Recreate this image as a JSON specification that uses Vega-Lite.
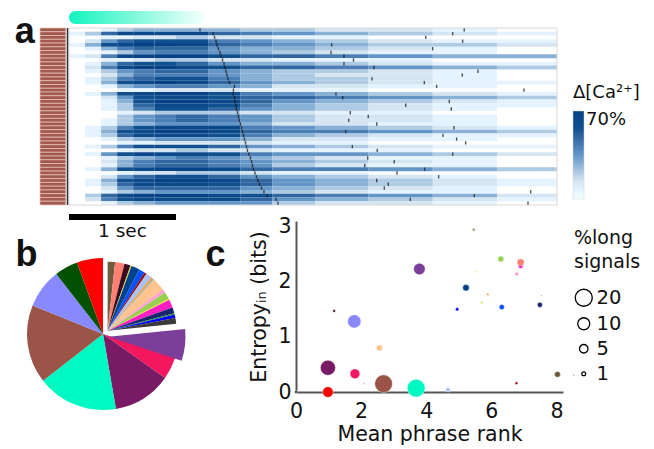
{
"$schema":"https://vega.github.io/schema/vega-lite/v6.json",
"background":"white",
"padding":{"left":14,"top":10,"right":0,"bottom":0},
"config":{"view":{"stroke":null},"font":"DejaVu Sans"},
"bounds":"flush",
"spacing":16,
"resolve":{"scale":{"color":"independent","size":"independent"},"legend":{"color":"independent","size":"independent"}},
"datasets":{
"bins":[{"b":0,"t0":0,"t1":0.15},{"b":1,"t0":0.15,"t1":0.3},{"b":2,"t0":0.3,"t1":0.45},{"b":3,"t0":0.45,"t1":0.6},{"b":4,"t0":0.6,"t1":0.8},{"b":5,"t0":0.8,"t1":1.0},{"b":6,"t0":1.0,"t1":1.3},{"b":7,"t0":1.3,"t1":1.6},{"b":8,"t0":1.6,"t1":1.9},{"b":9,"t0":1.9,"t1":2.3},{"b":10,"t0":2.3,"t1":2.8},{"b":11,"t0":2.8,"t1":3.4},{"b":12,"t0":3.4,"t1":4.0},{"b":13,"t0":4.0,"t1":4.561}],
"annot":[{"name":"stim","t0":0,"t1":1.27},{"name":"bar","t0":0,"t1":1,"lab":"1 sec"},{"name":"frame","t0":0,"t1":4.561},{"name":"divider","t0":-0.014}],
"cells":[
{"r":1,"b":2,"v":1},{"r":1,"b":3,"v":3},{"r":1,"b":4,"v":4},{"r":1,"b":5,"v":4},{"r":1,"b":6,"v":4},{"r":1,"b":7,"v":4},{"r":1,"b":8,"v":3},{"r":1,"b":9,"v":3},{"r":1,"b":10,"v":2},{"r":1,"b":11,"v":2},{"r":1,"b":12,"v":1},
{"r":2,"b":0,"v":1},{"r":2,"b":1,"v":3},{"r":2,"b":2,"v":7},{"r":2,"b":3,"v":9},{"r":2,"b":4,"v":9},{"r":2,"b":5,"v":9},{"r":2,"b":6,"v":9},{"r":2,"b":7,"v":7},{"r":2,"b":8,"v":6},{"r":2,"b":9,"v":5},{"r":2,"b":10,"v":4},{"r":2,"b":11,"v":3},{"r":2,"b":12,"v":2},{"r":2,"b":13,"v":1},
{"r":3,"b":2,"v":1},{"r":3,"b":3,"v":1},{"r":3,"b":4,"v":2},{"r":3,"b":5,"v":2},{"r":3,"b":6,"v":3},{"r":3,"b":7,"v":2},{"r":3,"b":8,"v":2},{"r":3,"b":9,"v":1},{"r":3,"b":10,"v":1},
{"r":4,"b":1,"v":2},{"r":4,"b":2,"v":5},{"r":4,"b":3,"v":7},{"r":4,"b":4,"v":8},{"r":4,"b":5,"v":8},{"r":4,"b":6,"v":8},{"r":4,"b":7,"v":6},{"r":4,"b":8,"v":5},{"r":4,"b":9,"v":4},{"r":4,"b":10,"v":3},{"r":4,"b":11,"v":2},{"r":4,"b":12,"v":1},{"r":4,"b":13,"v":1},
{"r":5,"b":0,"v":1},{"r":5,"b":1,"v":4},{"r":5,"b":2,"v":8},{"r":5,"b":3,"v":9},{"r":5,"b":4,"v":10},{"r":5,"b":5,"v":10},{"r":5,"b":6,"v":9},{"r":5,"b":7,"v":7},{"r":5,"b":8,"v":6},{"r":5,"b":9,"v":5},{"r":5,"b":10,"v":4},{"r":5,"b":11,"v":3},{"r":5,"b":12,"v":3},{"r":5,"b":13,"v":2},
{"r":6,"b":1,"v":1},{"r":6,"b":2,"v":4},{"r":6,"b":3,"v":6},{"r":6,"b":4,"v":7},{"r":6,"b":5,"v":7},{"r":6,"b":6,"v":7},{"r":6,"b":7,"v":5},{"r":6,"b":8,"v":4},{"r":6,"b":9,"v":4},{"r":6,"b":10,"v":3},{"r":6,"b":11,"v":2},{"r":6,"b":12,"v":1},
{"r":7,"b":2,"v":1},{"r":7,"b":3,"v":3},{"r":7,"b":4,"v":5},{"r":7,"b":5,"v":6},{"r":7,"b":6,"v":6},{"r":7,"b":7,"v":5},{"r":7,"b":8,"v":4},{"r":7,"b":9,"v":3},{"r":7,"b":10,"v":2},{"r":7,"b":11,"v":1},{"r":7,"b":12,"v":1},
{"r":8,"b":0,"v":1},{"r":8,"b":1,"v":2},{"r":8,"b":2,"v":6},{"r":8,"b":3,"v":9},{"r":8,"b":4,"v":10},{"r":8,"b":5,"v":10},{"r":8,"b":6,"v":10},{"r":8,"b":7,"v":8},{"r":8,"b":8,"v":7},{"r":8,"b":9,"v":7},{"r":8,"b":10,"v":6},{"r":8,"b":11,"v":5},{"r":8,"b":12,"v":4},{"r":8,"b":13,"v":4},
{"r":9,"b":2,"v":1},{"r":9,"b":3,"v":1},{"r":9,"b":4,"v":2},{"r":9,"b":5,"v":3},{"r":9,"b":6,"v":3},{"r":9,"b":7,"v":2},{"r":9,"b":8,"v":2},{"r":9,"b":9,"v":1},{"r":9,"b":10,"v":1},{"r":9,"b":11,"v":1},
{"r":10,"b":1,"v":1},{"r":10,"b":2,"v":4},{"r":10,"b":3,"v":7},{"r":10,"b":4,"v":8},{"r":10,"b":5,"v":8},{"r":10,"b":6,"v":7},{"r":10,"b":7,"v":5},{"r":10,"b":8,"v":4},{"r":10,"b":9,"v":4},{"r":10,"b":10,"v":3},{"r":10,"b":11,"v":2},{"r":10,"b":12,"v":1},{"r":10,"b":13,"v":1},
{"r":11,"b":1,"v":2},{"r":11,"b":2,"v":6},{"r":11,"b":3,"v":9},{"r":11,"b":4,"v":10},{"r":11,"b":5,"v":10},{"r":11,"b":6,"v":9},{"r":11,"b":7,"v":8},{"r":11,"b":8,"v":7},{"r":11,"b":9,"v":7},{"r":11,"b":10,"v":6},{"r":11,"b":11,"v":5},{"r":11,"b":12,"v":4},{"r":11,"b":13,"v":3},
{"r":12,"b":1,"v":1},{"r":12,"b":2,"v":3},{"r":12,"b":3,"v":5},{"r":12,"b":4,"v":6},{"r":12,"b":5,"v":7},{"r":12,"b":6,"v":7},{"r":12,"b":7,"v":5},{"r":12,"b":8,"v":4},{"r":12,"b":9,"v":3},{"r":12,"b":10,"v":3},{"r":12,"b":11,"v":2},{"r":12,"b":12,"v":1},
{"r":13,"b":2,"v":2},{"r":13,"b":3,"v":4},{"r":13,"b":4,"v":6},{"r":13,"b":5,"v":6},{"r":13,"b":6,"v":6},{"r":13,"b":7,"v":5},{"r":13,"b":8,"v":4},{"r":13,"b":9,"v":3},{"r":13,"b":10,"v":2},{"r":13,"b":11,"v":2},{"r":13,"b":12,"v":1},
{"r":14,"b":1,"v":1},{"r":14,"b":2,"v":3},{"r":14,"b":3,"v":6},{"r":14,"b":4,"v":7},{"r":14,"b":5,"v":8},{"r":14,"b":6,"v":8},{"r":14,"b":7,"v":6},{"r":14,"b":8,"v":4},{"r":14,"b":9,"v":3},{"r":14,"b":10,"v":3},{"r":14,"b":11,"v":2},{"r":14,"b":12,"v":1},
{"r":15,"b":1,"v":1},{"r":15,"b":2,"v":4},{"r":15,"b":3,"v":8},{"r":15,"b":4,"v":9},{"r":15,"b":5,"v":10},{"r":15,"b":6,"v":9},{"r":15,"b":7,"v":7},{"r":15,"b":8,"v":5},{"r":15,"b":9,"v":4},{"r":15,"b":10,"v":3},{"r":15,"b":11,"v":2},{"r":15,"b":12,"v":1},{"r":15,"b":13,"v":1},
{"r":16,"b":2,"v":1},{"r":16,"b":3,"v":4},{"r":16,"b":4,"v":5},{"r":16,"b":5,"v":6},{"r":16,"b":6,"v":6},{"r":16,"b":7,"v":5},{"r":16,"b":8,"v":4},{"r":16,"b":9,"v":2},{"r":16,"b":10,"v":2},{"r":16,"b":11,"v":1},{"r":16,"b":12,"v":1},
{"r":17,"b":3,"v":1},{"r":17,"b":4,"v":1},{"r":17,"b":5,"v":2},{"r":17,"b":6,"v":2},{"r":17,"b":7,"v":2},{"r":17,"b":8,"v":1},{"r":17,"b":9,"v":1},{"r":17,"b":10,"v":1},
{"r":18,"b":1,"v":1},{"r":18,"b":2,"v":4},{"r":18,"b":3,"v":8},{"r":18,"b":4,"v":9},{"r":18,"b":5,"v":10},{"r":18,"b":6,"v":10},{"r":18,"b":7,"v":8},{"r":18,"b":8,"v":6},{"r":18,"b":9,"v":5},{"r":18,"b":10,"v":4},{"r":18,"b":11,"v":3},{"r":18,"b":12,"v":2},{"r":18,"b":13,"v":1},
{"r":19,"b":2,"v":2},{"r":19,"b":3,"v":5},{"r":19,"b":4,"v":8},{"r":19,"b":5,"v":9},{"r":19,"b":6,"v":9},{"r":19,"b":7,"v":8},{"r":19,"b":8,"v":7},{"r":19,"b":9,"v":7},{"r":19,"b":10,"v":6},{"r":19,"b":11,"v":5},{"r":19,"b":12,"v":4},{"r":19,"b":13,"v":3},
{"r":20,"b":2,"v":1},{"r":20,"b":3,"v":4},{"r":20,"b":4,"v":8},{"r":20,"b":5,"v":10},{"r":20,"b":6,"v":10},{"r":20,"b":7,"v":9},{"r":20,"b":8,"v":7},{"r":20,"b":9,"v":5},{"r":20,"b":10,"v":4},{"r":20,"b":11,"v":3},{"r":20,"b":12,"v":2},{"r":20,"b":13,"v":1},
{"r":21,"b":2,"v":1},{"r":21,"b":3,"v":3},{"r":21,"b":4,"v":7},{"r":21,"b":5,"v":9},{"r":21,"b":6,"v":9},{"r":21,"b":7,"v":8},{"r":21,"b":8,"v":6},{"r":21,"b":9,"v":4},{"r":21,"b":10,"v":3},{"r":21,"b":11,"v":2},{"r":21,"b":12,"v":1},{"r":21,"b":13,"v":1},
{"r":22,"b":2,"v":1},{"r":22,"b":3,"v":3},{"r":22,"b":4,"v":6},{"r":22,"b":5,"v":8},{"r":22,"b":6,"v":8},{"r":22,"b":7,"v":7},{"r":22,"b":8,"v":5},{"r":22,"b":9,"v":4},{"r":22,"b":10,"v":3},{"r":22,"b":11,"v":2},{"r":22,"b":12,"v":1},
{"r":23,"b":3,"v":1},{"r":23,"b":4,"v":2},{"r":23,"b":5,"v":3},{"r":23,"b":6,"v":3},{"r":23,"b":7,"v":3},{"r":23,"b":8,"v":2},{"r":23,"b":9,"v":2},{"r":23,"b":10,"v":1},{"r":23,"b":11,"v":1},
{"r":24,"b":3,"v":3},{"r":24,"b":4,"v":5},{"r":24,"b":5,"v":6},{"r":24,"b":6,"v":7},{"r":24,"b":7,"v":6},{"r":24,"b":8,"v":5},{"r":24,"b":9,"v":3},{"r":24,"b":10,"v":2},{"r":24,"b":11,"v":2},{"r":24,"b":12,"v":1},
{"r":25,"b":2,"v":1},{"r":25,"b":3,"v":3},{"r":25,"b":4,"v":5},{"r":25,"b":5,"v":6},{"r":25,"b":6,"v":7},{"r":25,"b":7,"v":6},{"r":25,"b":8,"v":5},{"r":25,"b":9,"v":3},{"r":25,"b":10,"v":2},{"r":25,"b":11,"v":2},{"r":25,"b":12,"v":1},
{"r":26,"b":2,"v":1},{"r":26,"b":3,"v":3},{"r":26,"b":4,"v":4},{"r":26,"b":5,"v":5},{"r":26,"b":6,"v":5},{"r":26,"b":7,"v":5},{"r":26,"b":8,"v":4},{"r":26,"b":9,"v":2},{"r":26,"b":10,"v":2},{"r":26,"b":11,"v":1},{"r":26,"b":12,"v":1},
{"r":27,"b":1,"v":1},{"r":27,"b":2,"v":3},{"r":27,"b":3,"v":6},{"r":27,"b":4,"v":8},{"r":27,"b":5,"v":9},{"r":27,"b":6,"v":9},{"r":27,"b":7,"v":9},{"r":27,"b":8,"v":6},{"r":27,"b":9,"v":5},{"r":27,"b":10,"v":4},{"r":27,"b":11,"v":3},{"r":27,"b":12,"v":2},{"r":27,"b":13,"v":1},
{"r":28,"b":1,"v":1},{"r":28,"b":2,"v":4},{"r":28,"b":3,"v":8},{"r":28,"b":4,"v":9},{"r":28,"b":5,"v":10},{"r":28,"b":6,"v":10},{"r":28,"b":7,"v":9},{"r":28,"b":8,"v":7},{"r":28,"b":9,"v":6},{"r":28,"b":10,"v":6},{"r":28,"b":11,"v":5},{"r":28,"b":12,"v":4},{"r":28,"b":13,"v":3},
{"r":29,"b":1,"v":1},{"r":29,"b":2,"v":3},{"r":29,"b":3,"v":7},{"r":29,"b":4,"v":9},{"r":29,"b":5,"v":9},{"r":29,"b":6,"v":9},{"r":29,"b":7,"v":8},{"r":29,"b":8,"v":6},{"r":29,"b":9,"v":4},{"r":29,"b":10,"v":3},{"r":29,"b":11,"v":2},{"r":29,"b":12,"v":1},{"r":29,"b":13,"v":1},
{"r":30,"b":2,"v":1},{"r":30,"b":3,"v":3},{"r":30,"b":4,"v":4},{"r":30,"b":5,"v":5},{"r":30,"b":6,"v":5},{"r":30,"b":7,"v":5},{"r":30,"b":8,"v":4},{"r":30,"b":9,"v":2},{"r":30,"b":10,"v":2},{"r":30,"b":11,"v":1},{"r":30,"b":12,"v":1},
{"r":31,"b":3,"v":1},{"r":31,"b":4,"v":1},{"r":31,"b":5,"v":2},{"r":31,"b":6,"v":2},{"r":31,"b":7,"v":2},{"r":31,"b":8,"v":2},{"r":31,"b":9,"v":1},{"r":31,"b":10,"v":1},
{"r":32,"b":1,"v":1},{"r":32,"b":2,"v":3},{"r":32,"b":3,"v":6},{"r":32,"b":4,"v":8},{"r":32,"b":5,"v":8},{"r":32,"b":6,"v":8},{"r":32,"b":7,"v":7},{"r":32,"b":8,"v":5},{"r":32,"b":9,"v":4},{"r":32,"b":10,"v":3},{"r":32,"b":11,"v":2},{"r":32,"b":12,"v":1},{"r":32,"b":13,"v":1},
{"r":33,"b":3,"v":1},{"r":33,"b":4,"v":2},{"r":33,"b":5,"v":2},{"r":33,"b":6,"v":3},{"r":33,"b":7,"v":2},{"r":33,"b":8,"v":2},{"r":33,"b":9,"v":1},{"r":33,"b":10,"v":1},{"r":33,"b":11,"v":1},
{"r":34,"b":1,"v":1},{"r":34,"b":2,"v":5},{"r":34,"b":3,"v":8},{"r":34,"b":4,"v":9},{"r":34,"b":5,"v":9},{"r":34,"b":6,"v":9},{"r":34,"b":7,"v":8},{"r":34,"b":8,"v":6},{"r":34,"b":9,"v":5},{"r":34,"b":10,"v":5},{"r":34,"b":11,"v":4},{"r":34,"b":12,"v":3},{"r":34,"b":13,"v":2},
{"r":35,"b":2,"v":1},{"r":35,"b":3,"v":3},{"r":35,"b":4,"v":4},{"r":35,"b":5,"v":5},{"r":35,"b":6,"v":6},{"r":35,"b":7,"v":5},{"r":35,"b":8,"v":4},{"r":35,"b":9,"v":3},{"r":35,"b":10,"v":2},{"r":35,"b":11,"v":1},{"r":35,"b":12,"v":1},
{"r":36,"b":2,"v":2},{"r":36,"b":3,"v":4},{"r":36,"b":4,"v":6},{"r":36,"b":5,"v":7},{"r":36,"b":6,"v":7},{"r":36,"b":7,"v":6},{"r":36,"b":8,"v":5},{"r":36,"b":9,"v":4},{"r":36,"b":10,"v":3},{"r":36,"b":11,"v":2},{"r":36,"b":12,"v":1},
{"r":37,"b":2,"v":1},{"r":37,"b":3,"v":4},{"r":37,"b":4,"v":6},{"r":37,"b":5,"v":7},{"r":37,"b":6,"v":7},{"r":37,"b":7,"v":6},{"r":37,"b":8,"v":5},{"r":37,"b":9,"v":3},{"r":37,"b":10,"v":2},{"r":37,"b":11,"v":1},{"r":37,"b":12,"v":1},
{"r":38,"b":1,"v":1},{"r":38,"b":2,"v":4},{"r":38,"b":3,"v":8},{"r":38,"b":4,"v":9},{"r":38,"b":5,"v":10},{"r":38,"b":6,"v":10},{"r":38,"b":7,"v":9},{"r":38,"b":8,"v":7},{"r":38,"b":9,"v":6},{"r":38,"b":10,"v":6},{"r":38,"b":11,"v":5},{"r":38,"b":12,"v":4},{"r":38,"b":13,"v":3},
{"r":39,"b":3,"v":1},{"r":39,"b":4,"v":2},{"r":39,"b":5,"v":2},{"r":39,"b":6,"v":3},{"r":39,"b":7,"v":3},{"r":39,"b":8,"v":2},{"r":39,"b":9,"v":1},{"r":39,"b":10,"v":1},
{"r":40,"b":2,"v":2},{"r":40,"b":3,"v":5},{"r":40,"b":4,"v":7},{"r":40,"b":5,"v":8},{"r":40,"b":6,"v":8},{"r":40,"b":7,"v":7},{"r":40,"b":8,"v":5},{"r":40,"b":9,"v":4},{"r":40,"b":10,"v":3},{"r":40,"b":11,"v":2},{"r":40,"b":12,"v":1},
{"r":41,"b":1,"v":1},{"r":41,"b":2,"v":4},{"r":41,"b":3,"v":8},{"r":41,"b":4,"v":9},{"r":41,"b":5,"v":10},{"r":41,"b":6,"v":10},{"r":41,"b":7,"v":9},{"r":41,"b":8,"v":7},{"r":41,"b":9,"v":5},{"r":41,"b":10,"v":4},{"r":41,"b":11,"v":3},{"r":41,"b":12,"v":2},{"r":41,"b":13,"v":1},
{"r":42,"b":1,"v":1},{"r":42,"b":2,"v":3},{"r":42,"b":3,"v":7},{"r":42,"b":4,"v":9},{"r":42,"b":5,"v":9},{"r":42,"b":6,"v":9},{"r":42,"b":7,"v":8},{"r":42,"b":8,"v":7},{"r":42,"b":9,"v":5},{"r":42,"b":10,"v":4},{"r":42,"b":11,"v":3},{"r":42,"b":12,"v":2},{"r":42,"b":13,"v":1},
{"r":43,"b":2,"v":2},{"r":43,"b":3,"v":5},{"r":43,"b":4,"v":7},{"r":43,"b":5,"v":7},{"r":43,"b":6,"v":7},{"r":43,"b":7,"v":7},{"r":43,"b":8,"v":5},{"r":43,"b":9,"v":4},{"r":43,"b":10,"v":3},{"r":43,"b":11,"v":2},{"r":43,"b":12,"v":1},
{"r":44,"b":2,"v":1},{"r":44,"b":3,"v":3},{"r":44,"b":4,"v":4},{"r":44,"b":5,"v":5},{"r":44,"b":6,"v":5},{"r":44,"b":7,"v":5},{"r":44,"b":8,"v":4},{"r":44,"b":9,"v":3},{"r":44,"b":10,"v":2},{"r":44,"b":11,"v":1},{"r":44,"b":12,"v":1},
{"r":45,"b":1,"v":3},{"r":45,"b":2,"v":7},{"r":45,"b":3,"v":9},{"r":45,"b":4,"v":10},{"r":45,"b":5,"v":10},{"r":45,"b":6,"v":10},{"r":45,"b":7,"v":9},{"r":45,"b":8,"v":8},{"r":45,"b":9,"v":7},{"r":45,"b":10,"v":6},{"r":45,"b":11,"v":5},{"r":45,"b":12,"v":4},{"r":45,"b":13,"v":2},
{"r":46,"b":1,"v":2},{"r":46,"b":2,"v":6},{"r":46,"b":3,"v":8},{"r":46,"b":4,"v":9},{"r":46,"b":5,"v":9},{"r":46,"b":6,"v":9},{"r":46,"b":7,"v":9},{"r":46,"b":8,"v":7},{"r":46,"b":9,"v":5},{"r":46,"b":10,"v":4},{"r":46,"b":11,"v":3},{"r":46,"b":12,"v":2},{"r":46,"b":13,"v":1},
{"r":47,"b":2,"v":1},{"r":47,"b":3,"v":3},{"r":47,"b":4,"v":4},{"r":47,"b":5,"v":5},{"r":47,"b":6,"v":5},{"r":47,"b":7,"v":5},{"r":47,"b":8,"v":5},{"r":47,"b":9,"v":3},{"r":47,"b":10,"v":2},{"r":47,"b":11,"v":2},{"r":47,"b":12,"v":1}
],
"ticks":[
{"r":1,"t":1.224,"k":"m"},{"r":2,"t":1.346,"k":"m"},{"r":3,"t":1.36,"k":"m"},{"r":4,"t":1.374,"k":"m"},{"r":5,"t":1.383,"k":"m"},{"r":6,"t":1.397,"k":"m"},{"r":7,"t":1.411,"k":"m"},{"r":8,"t":1.421,"k":"m"},{"r":9,"t":1.435,"k":"m"},{"r":10,"t":1.449,"k":"m"},{"r":11,"t":1.458,"k":"m"},{"r":12,"t":1.467,"k":"m"},{"r":13,"t":1.477,"k":"m"},{"r":14,"t":1.486,"k":"m"},{"r":15,"t":1.5,"k":"m"},{"r":16,"t":1.547,"k":"m"},{"r":17,"t":1.537,"k":"m"},{"r":18,"t":1.533,"k":"m"},{"r":19,"t":1.547,"k":"m"},{"r":20,"t":1.551,"k":"m"},{"r":21,"t":1.561,"k":"m"},{"r":22,"t":1.565,"k":"m"},{"r":23,"t":1.575,"k":"m"},{"r":24,"t":1.584,"k":"m"},{"r":25,"t":1.593,"k":"m"},{"r":26,"t":1.603,"k":"m"},{"r":27,"t":1.612,"k":"m"},{"r":28,"t":1.621,"k":"m"},{"r":29,"t":1.631,"k":"m"},{"r":30,"t":1.64,"k":"m"},{"r":31,"t":1.65,"k":"m"},{"r":32,"t":1.659,"k":"m"},{"r":33,"t":1.668,"k":"m"},{"r":34,"t":1.682,"k":"m"},{"r":35,"t":1.696,"k":"m"},{"r":36,"t":1.706,"k":"m"},{"r":37,"t":1.715,"k":"m"},{"r":38,"t":1.724,"k":"m"},{"r":39,"t":1.738,"k":"m"},{"r":40,"t":1.752,"k":"m"},{"r":41,"t":1.766,"k":"m"},{"r":42,"t":1.78,"k":"m"},{"r":43,"t":1.799,"k":"m"},{"r":44,"t":1.822,"k":"m"},{"r":45,"t":1.85,"k":"m"},{"r":46,"t":1.935,"k":"m"},{"r":47,"t":1.953,"k":"m"},
{"r":1,"t":3.694,"k":"s"},{"r":2,"t":3.586,"k":"s"},{"r":3,"t":3.334,"k":"s"},{"r":4,"t":3.679,"k":"s"},{"r":5,"t":2.455,"k":"s"},{"r":6,"t":3.399,"k":"s"},{"r":7,"t":2.449,"k":"s"},{"r":8,"t":2.57,"k":"s"},{"r":9,"t":2.659,"k":"s"},{"r":10,"t":2.57,"k":"s"},{"r":11,"t":2.85,"k":"s"},{"r":12,"t":3.822,"k":"s"},{"r":13,"t":3.676,"k":"s"},{"r":14,"t":2.832,"k":"s"},{"r":15,"t":3.321,"k":"s"},{"r":16,"t":3.436,"k":"s"},{"r":17,"t":4.252,"k":"s"},{"r":18,"t":2.495,"k":"s"},{"r":19,"t":2.558,"k":"s"},{"r":20,"t":3.554,"k":"s"},{"r":21,"t":3.147,"k":"s"},{"r":22,"t":3.573,"k":"s"},{"r":23,"t":2.629,"k":"s"},{"r":24,"t":2.797,"k":"s"},{"r":25,"t":2.614,"k":"s"},{"r":26,"t":2.876,"k":"s"},{"r":27,"t":3.598,"k":"s"},{"r":28,"t":2.586,"k":"s"},{"r":29,"t":3.495,"k":"s"},{"r":30,"t":3.623,"k":"s"},{"r":31,"t":3.707,"k":"s"},{"r":32,"t":2.648,"k":"s"},{"r":33,"t":2.881,"k":"s"},{"r":34,"t":3.586,"k":"s"},{"r":35,"t":2.792,"k":"s"},{"r":36,"t":3.04,"k":"s"},{"r":37,"t":2.764,"k":"s"},{"r":38,"t":3.324,"k":"s"},{"r":39,"t":3.065,"k":"s"},{"r":40,"t":3.455,"k":"s"},{"r":41,"t":2.876,"k":"s"},{"r":42,"t":2.984,"k":"s"},{"r":43,"t":2.947,"k":"s"},{"r":44,"t":4.315,"k":"s"},{"r":45,"t":3.788,"k":"s"},{"r":46,"t":3.19,"k":"s"},{"r":47,"t":4.29,"k":"s"}
],
"pie":[
{"syl":"s01","deg":6.3,"ord":1,"grp":"small"},{"syl":"s02","deg":7.9,"ord":2,"grp":"small"},{"syl":"s03","deg":5.2,"ord":3,"grp":"small"},{"syl":"s04","deg":1.0,"ord":4,"grp":"small"},{"syl":"s05","deg":7.0,"ord":5,"grp":"small"},{"syl":"s06","deg":5.0,"ord":6,"grp":"small"},{"syl":"s07","deg":2.0,"ord":7,"grp":"small"},{"syl":"s08","deg":5.0,"ord":8,"grp":"small"},{"syl":"s09","deg":1.5,"ord":9,"grp":"small"},{"syl":"s10","deg":1.0,"ord":10,"grp":"small"},{"syl":"s20","deg":0.5,"ord":11,"grp":"small"},{"syl":"s11","deg":11,"ord":12,"grp":"small"},{"syl":"s12","deg":3,"ord":13,"grp":"small"},{"syl":"s13","deg":6,"ord":14,"grp":"small"},{"syl":"s14","deg":1,"ord":15,"grp":"small"},{"syl":"s15","deg":7,"ord":16,"grp":"small"},{"syl":"s16","deg":5,"ord":17,"grp":"small"},{"syl":"s17","deg":1,"ord":18,"grp":"small"},{"syl":"s18","deg":3,"ord":19,"grp":"small"},{"syl":"s19","deg":5,"ord":20,"grp":"small"},
{"syl":"s21","deg":24,"ord":21,"grp":"pur"},{"syl":"s22","deg":17,"ord":22,"grp":"main"},{"syl":"s23","deg":45,"ord":23,"grp":"main"},{"syl":"s24","deg":62,"ord":24,"grp":"main"},{"syl":"s25","deg":60,"ord":25,"grp":"main"},{"syl":"s26","deg":30,"ord":26,"grp":"main"},{"syl":"s27","deg":18,"ord":27,"grp":"main"},{"syl":"s28","deg":20,"ord":28,"grp":"main"}
],
"pts":[
{"syl":"s25","rank":2.69,"ent":0.15,"pct":21.7},{"syl":"s24","rank":3.69,"ent":0.07,"pct":21.7},{"syl":"s23","rank":0.98,"ent":0.44,"pct":15.6},{"syl":"s26","rank":1.79,"ent":1.28,"pct":12.2},{"syl":"s21","rank":3.79,"ent":2.23,"pct":9.2},{"syl":"s28","rank":0.98,"ent":0.0,"pct":7.8},{"syl":"s22","rank":1.81,"ent":0.33,"pct":6.6},
{"syl":"s15","rank":6.9,"ent":2.28,"pct":1.5},{"syl":"s02","rank":6.9,"ent":2.35,"pct":3.5},{"syl":"s05","rank":5.22,"ent":1.89,"pct":2.9},{"syl":"s11","rank":2.56,"ent":0.8,"pct":2.7},{"syl":"s01","rank":8.03,"ent":0.32,"pct":2.4},{"syl":"s13","rank":6.29,"ent":2.41,"pct":2.4},{"syl":"s06","rank":6.32,"ent":1.54,"pct":1.8},{"syl":"s16","rank":7.49,"ent":1.58,"pct":1.8},{"syl":"s08","rank":4.67,"ent":0.04,"pct":1.4},{"syl":"s12","rank":6.78,"ent":2.14,"pct":1.0},{"syl":"s18","rank":4.95,"ent":1.5,"pct":0.74},{"syl":"s03","rank":1.17,"ent":1.47,"pct":0.5},{"syl":"s07","rank":6.77,"ent":0.16,"pct":0.5},{"syl":"s20","rank":5.46,"ent":2.94,"pct":0.6},{"syl":"s19","rank":0.0,"ent":0.0,"pct":0.6},{"syl":"s09","rank":5.89,"ent":1.77,"pct":0.4},{"syl":"s04","rank":5.7,"ent":1.62,"pct":0.3},{"syl":"s14","rank":5.54,"ent":2.18,"pct":0.2},{"syl":"s10","rank":7.54,"ent":1.75,"pct":0.15},{"syl":"s17","rank":2.08,"ent":0.15,"pct":0.1},{"syl":"s19","rank":8.53,"ent":0.31,"pct":0.1}
]
},
"vconcat":[
{
"width":517,"height":177,
"layer":[
{"data":{"name":"cells"},
"transform":[{"lookup":"b","from":{"data":{"name":"bins"},"key":"b","fields":["t0","t1"]}}],
"mark":{"type":"bar","size":3.85},
"encoding":{
"x":{"field":"t0","type":"quantitative","scale":{"domain":[-0.271,4.561],"nice":false,"zero":false,"padding":0},"axis":null},
"x2":{"field":"t1"},
"y":{"field":"r","type":"quantitative","scale":{"domain":[0.5,47.5],"reverse":true,"nice":false,"zero":false,"padding":0},"axis":null},
"color":{"field":"v","type":"quantitative","scale":{"domain":[0,2,5,8,10],"range":["#ffffff","#d6e5f2","#6396c7","#11508e","#064285"]},
"legend":{"orient":"none","legendX":533,"legendY":56,"direction":"vertical","gradientLength":88,"gradientThickness":11,"title":"Δ[Ca²⁺]","titleFont":"DejaVu Sans","titleFontSize":18,"titleFontWeight":"normal","titleColor":"#111","titlePadding":9,"values":[10],"labelExpr":"'70%'","labelFont":"DejaVu Sans","labelFontSize":18,"labelColor":"#111","labelOffset":2,"gradientStrokeColor":"#d0d0d0","gradientStrokeWidth":0.5}}
}},
{"data":{"name":"annot"},"transform":[{"filter":"datum.name == 'frame'"}],
"mark":{"type":"rect","filled":false,"color":"#d8d8d8","strokeWidth":1},
"encoding":{
"x":{"field":"t0","type":"quantitative","scale":{"domain":[-0.271,4.561],"nice":false,"zero":false,"padding":0},"axis":null},
"x2":{"field":"t1"},
"y":{"datum":0.5,"type":"quantitative","scale":{"domain":[0.5,47.5],"reverse":true,"nice":false,"zero":false,"padding":0},"axis":null},
"y2":{"datum":47.5}}},
{"data":{"name":"ticks"},"transform":[{"filter":"datum.k == 'm'"}],
"mark":{"type":"bar","size":3.766,"color":"#a3584e","stroke":"#e6c6bf","strokeWidth":0.7},
"encoding":{
"x":{"datum":-0.271,"type":"quantitative","scale":{"domain":[-0.271,4.561],"nice":false,"zero":false,"padding":0},"axis":null},
"x2":{"datum":-0.03},
"y":{"field":"r","type":"quantitative","scale":{"domain":[0.5,47.5],"reverse":true,"nice":false,"zero":false,"padding":0},"axis":null}}},
{"data":{"name":"annot"},"transform":[{"filter":"datum.name == 'divider'"}],
"mark":{"type":"rule","color":"#333","strokeWidth":1.5},
"encoding":{
"x":{"field":"t0","type":"quantitative","scale":{"domain":[-0.271,4.561],"nice":false,"zero":false,"padding":0},"axis":null},
"y":{"datum":0.5,"type":"quantitative","scale":{"domain":[0.5,47.5],"reverse":true,"nice":false,"zero":false,"padding":0},"axis":null},
"y2":{"datum":47.5}}},
{"data":{"name":"ticks"},
"mark":{"type":"tick","orient":"vertical","size":3.4,"thickness":1.4,"color":"#111"},
"encoding":{
"x":{"field":"t","type":"quantitative","scale":{"domain":[-0.271,4.561],"nice":false,"zero":false,"padding":0},"axis":null},
"y":{"field":"r","type":"quantitative","scale":{"domain":[0.5,47.5],"reverse":true,"nice":false,"zero":false,"padding":0},"axis":null}}},
{"data":{"name":"annot"},"transform":[{"filter":"datum.name == 'stim'"}],
"mark":{"type":"bar","size":13,"cornerRadius":6.5,"color":{"gradient":"linear","x1":0,"y1":0,"x2":1,"y2":0,"stops":[{"offset":0,"color":"#14f4be"},{"offset":1,"color":"#f4fffc"}]}},
"encoding":{
"x":{"field":"t0","type":"quantitative","scale":{"domain":[-0.271,4.561],"nice":false,"zero":false,"padding":0},"axis":null},
"x2":{"field":"t1"},
"y":{"datum":-2.29,"type":"quantitative","scale":{"domain":[0.5,47.5],"reverse":true,"nice":false,"zero":false,"padding":0},"axis":null}}},
{"data":{"name":"annot"},"transform":[{"filter":"datum.name == 'bar'"}],
"mark":{"type":"bar","size":6,"color":"#000"},
"encoding":{
"x":{"field":"t0","type":"quantitative","scale":{"domain":[-0.271,4.561],"nice":false,"zero":false,"padding":0},"axis":null},
"x2":{"field":"t1"},
"y":{"datum":50.69,"type":"quantitative","scale":{"domain":[0.5,47.5],"reverse":true,"nice":false,"zero":false,"padding":0},"axis":null}}},
{"data":{"name":"annot"},"transform":[{"filter":"datum.name == 'bar'"}],
"mark":{"type":"text","font":"DejaVu Sans","fontSize":18.5,"color":"#111","align":"center","baseline":"alphabetic"},
"encoding":{
"x":{"datum":0.5,"type":"quantitative","scale":{"domain":[-0.271,4.561],"nice":false,"zero":false,"padding":0},"axis":null},
"y":{"datum":56.1,"type":"quantitative","scale":{"domain":[0.5,47.5],"reverse":true,"nice":false,"zero":false,"padding":0},"axis":null},
"text":{"field":"lab"}}},
{"data":{"values":[{"lab":"a"}]},
"mark":{"type":"text","font":"Liberation Sans","fontWeight":"bold","fontSize":36,"color":"#111","align":"left","baseline":"alphabetic"},
"encoding":{
"x":{"datum":-0.508,"type":"quantitative","scale":{"domain":[-0.271,4.561],"nice":false,"zero":false,"padding":0},"axis":null},
"y":{"datum":4.56,"type":"quantitative","scale":{"domain":[0.5,47.5],"reverse":true,"nice":false,"zero":false,"padding":0},"axis":null},
"text":{"field":"lab"}}}
]
},
{
"bounds":"flush",
"spacing":130,
"resolve":{"scale":{"color":"independent","size":"independent"},"legend":{"color":"independent","size":"independent"}},
"hconcat":[
{
"width":126,"height":226,
"data":{"name":"pie"},
"encoding":{
"theta":{"field":"deg","type":"quantitative","stack":true},
"order":{"field":"ord","type":"quantitative"},
"color":{"field":"syl","type":"nominal","legend":null,"scale":{"domain":["s01","s02","s03","s04","s05","s06","s07","s08","s09","s10","s11","s12","s13","s14","s15","s16","s17","s18","s19","s20","s21","s22","s23","s24","s25","s26","s27","s28"],"range":["#6e5a3c","#ff8070","#3c0a1e","#c8d830","#00418c","#0050ff","#a00000","#a8c2f4","#f59a30","#a8a8a8","#ffc38f","#ffa0d6","#98d050","#f0dc28","#ff1fc4","#17256e","#1fa02a","#0000ff","#3a3a3a","#8fa07a","#7b3f99","#f2175f","#781a64","#00f8c2","#9b5448","#8889ff","#005200","#ff0000"]}}
},
"layer":[
{"mark":{"type":"arc","radius":76},"encoding":{"opacity":{"condition":{"test":"datum.grp == 'main'","value":1},"value":0}}},
{"mark":{"type":"arc","radius":69,"xOffset":4.6,"yOffset":-3.3},"encoding":{"opacity":{"condition":{"test":"datum.grp == 'small'","value":1},"value":0}}},
{"mark":{"type":"arc","radius":77,"xOffset":5.5,"yOffset":2.7},"encoding":{"opacity":{"condition":{"test":"datum.grp == 'pur'","value":1},"value":0}}}
]
},
{
"width":267,"height":171,
"layer":[
{"data":{"name":"pts"},
"mark":{"type":"circle","opacity":1,"stroke":"white","strokeWidth":0.4},
"encoding":{
"x":{"field":"rank","type":"quantitative","scale":{"domain":[0,8.2],"nice":false,"zero":false},
"axis":{"values":[0,2,4,6,8],"format":"d","ticks":false,"grid":false,"domainColor":"#555","domainWidth":2,"labelFont":"DejaVu Sans","labelFontSize":20.5,"labelColor":"#111","labelPadding":9,"labelFlush":false,"title":"Mean phrase rank","titleFont":"DejaVu Sans","titleFontSize":20.5,"titleFontWeight":"normal","titleColor":"#111","titlePadding":3}},
"y":{"field":"ent","type":"quantitative","scale":{"domain":[0,3.1],"nice":false,"zero":false},
"axis":{"values":[0,1,2,3],"format":"d","ticks":false,"grid":false,"domainColor":"#555","domainWidth":2,"labelFont":"DejaVu Sans","labelFontSize":20.5,"labelColor":"#111","labelPadding":5,"labelFlush":false,"title":"Entropyᵢₙ (bits)","titleFont":"DejaVu Sans","titleFontSize":20.5,"titleFontWeight":"normal","titleColor":"#111","titlePadding":8}},
"size":{"field":"pct","type":"quantitative","scale":{"domain":[0,20],"range":[0,290]},
"legend":{"orient":"none","legendX":278,"legendY":8,"values":[20,10,5,1],"title":["%long","signals"],"titleFont":"DejaVu Sans","titleFontSize":19,"titleFontWeight":"normal","titleColor":"#111","titleLineHeight":24,"titlePadding":16,"labelFont":"DejaVu Sans","labelFontSize":19.5,"labelColor":"#111","labelOffset":3,"symbolType":"circle","symbolFillColor":"white","symbolStrokeColor":"black","symbolStrokeWidth":1.3,"symbolOpacity":1,"rowPadding":4}},
"color":{"field":"syl","type":"nominal","legend":null,"scale":{"domain":["s01","s02","s03","s04","s05","s06","s07","s08","s09","s10","s11","s12","s13","s14","s15","s16","s17","s18","s19","s20","s21","s22","s23","s24","s25","s26","s27","s28"],"range":["#6e5a3c","#ff8070","#3c0a1e","#c8d830","#00418c","#0050ff","#a00000","#a8c2f4","#f59a30","#a8a8a8","#ffc38f","#ffa0d6","#98d050","#f0dc28","#ff1fc4","#17256e","#1fa02a","#0000ff","#3a3a3a","#8fa07a","#7b3f99","#f2175f","#781a64","#00f8c2","#9b5448","#8889ff","#005200","#ff0000"]}}
}},
{"data":{"values":[{"lab":"b"}]},
"mark":{"type":"text","font":"Liberation Sans","fontWeight":"bold","fontSize":36,"color":"#111","align":"left","baseline":"alphabetic"},
"encoding":{
"x":{"datum":-8.615,"type":"quantitative","scale":{"domain":[0,8.2],"nice":false,"zero":false}},
"y":{"datum":2.284,"type":"quantitative","scale":{"domain":[0,3.1],"nice":false,"zero":false}},
"text":{"field":"lab"}}},
{"data":{"values":[{"lab":"c"}]},
"mark":{"type":"text","font":"Liberation Sans","fontWeight":"bold","fontSize":36,"color":"#111","align":"left","baseline":"alphabetic"},
"encoding":{
"x":{"datum":-2.776,"type":"quantitative","scale":{"domain":[0,8.2],"nice":false,"zero":false}},
"y":{"datum":2.284,"type":"quantitative","scale":{"domain":[0,3.1],"nice":false,"zero":false}},
"text":{"field":"lab"}}}
]
}
]
}
]
}
